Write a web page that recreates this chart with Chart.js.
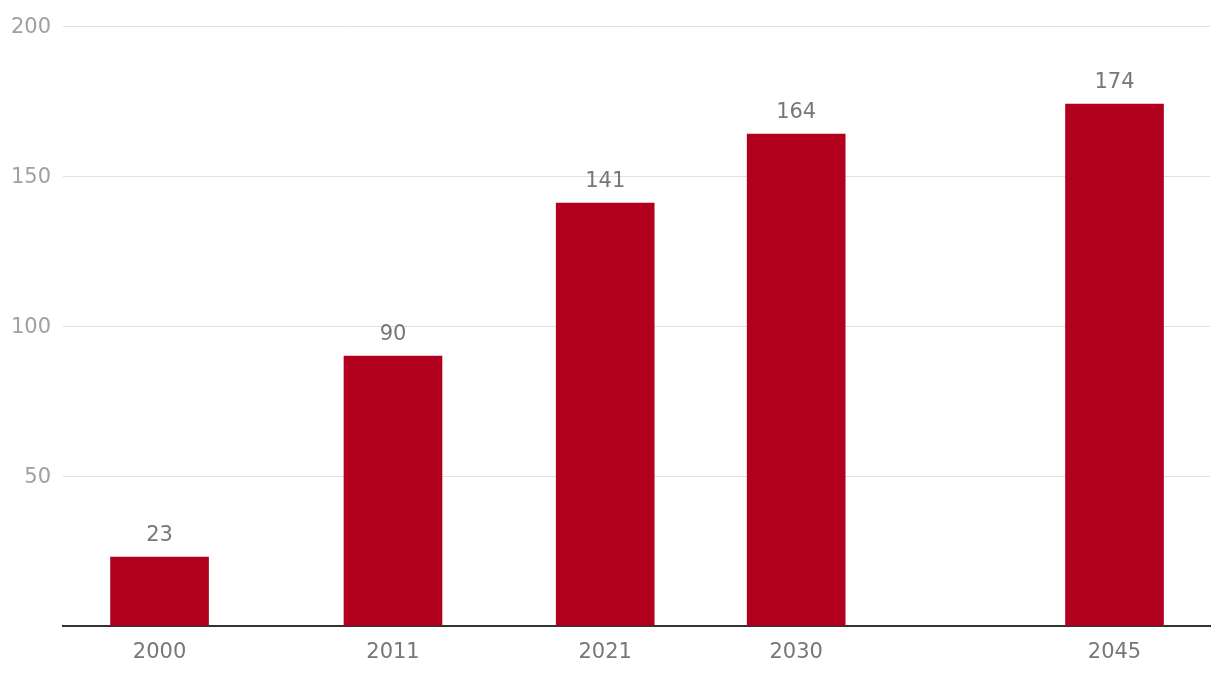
<!DOCTYPE html>
<html>
<head>
<meta charset="utf-8">
<script src="https://cdn.jsdelivr.net/npm/chart.js@4/dist/chart.umd.min.js"></script>
<style>
  html, body { margin: 0; padding: 0; background: #fff; }
  #wrap { width: 1220px; height: 684px; }
</style>
</head>
<body>
<div id="wrap"><canvas id="chart"></canvas></div>
<script>
const years = [2000, 2011, 2021, 2030, 2045];
const values = [23, 90, 141, 164, 174];
const yTicks = [50, 100, 150, 200];

const FONT = 'DejaVu Sans';

// value labels above each bar
const barLabels = {
	id: 'barLabels',
	afterDatasetsDraw(chart) {
		const ctx = chart.ctx;
		const meta = chart.getDatasetMeta(0);
		ctx.save();
		ctx.font = `21px "${FONT}"`;
		ctx.fillStyle = '#777777';
		ctx.textAlign = 'center';
		ctx.textBaseline = 'alphabetic';
		meta.data.forEach((bar, i) => {
			ctx.fillText(String(values[i]), bar.x, bar.y - 16);
		});
		ctx.restore();
	}
};

new Chart(document.getElementById('chart'), {
	type: 'bar',
	data: {
		datasets: [{
			data: years.map((y, i) => ({ x: y, y: values[i] })),
			backgroundColor: '#b0001e',
			barThickness: 98,
			borderWidth: 0
		}]
	},
	options: {
		responsive: true,
		maintainAspectRatio: false,
		animation: false,
		layout: { padding: { top: 26, right: 10, left: 0, bottom: 0 } },
		plugins: {
			legend: { display: false },
			tooltip: { enabled: false }
		},
		scales: {
			x: {
				type: 'linear',
				offset: false,
				min: 1995.45,
				max: 2049.5,
				afterBuildTicks: scale => { scale.ticks = years.map(v => ({ value: v })); },
				afterFit: scale => { scale.height = 58; },
				grid: { display: false, drawTicks: false, offset: false },
				border: { display: true, color: '#333333', width: 2 },
				ticks: {
					padding: 14,
					color: '#777777',
					font: { family: FONT, size: 21 },
					callback: v => String(v),
					maxRotation: 0,
					autoSkip: false
				}
			},
			y: {
				min: 0,
				max: 200,
				afterBuildTicks: scale => { scale.ticks = [0].concat(yTicks).map(v => ({ value: v })); },
				afterFit: scale => { scale.width = 63; },
				grid: { color: '#e0e0e0', lineWidth: 1, drawTicks: false },
				border: { display: false },
				ticks: {
					padding: 12,
					labelOffset: 2,
					color: '#a0a0a0',
					font: { family: FONT, size: 21 },
					callback: v => (v === 0 ? '' : String(v))
				}
			}
		}
	},
	plugins: [barLabels]
});
</script>
</body>
</html>
